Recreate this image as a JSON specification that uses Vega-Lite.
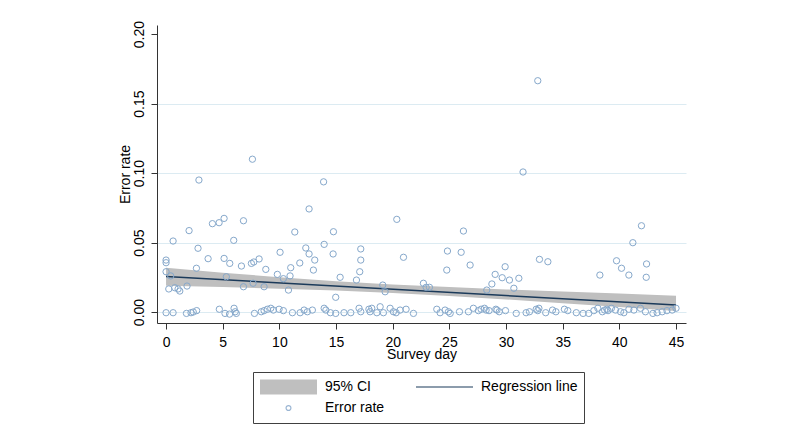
{
  "$schema": "https://vega.github.io/schema/vega-lite/v6.json",
  "autosize": {"type": "none"},
  "padding": {"left": 157, "top": 25, "right": 114, "bottom": 118},
  "width": 529,
  "height": 298,
  "background": "white",
  "config": {
    "font": "Liberation Sans",
    "view": {"stroke": null},
    "axis": {"labelFont": "Liberation Sans", "titleFont": "Liberation Sans", "labelFontSize": 14, "titleFontSize": 14, "titleFontWeight": "normal", "labelColor": "#000", "titleColor": "#000", "domainColor": "#333", "tickColor": "#333", "tickSize": 6, "domainWidth": 1, "tickWidth": 1},
    "legend": {
      "orient": "none", "legendX": 96, "legendY": 347, "columns": 2, "direction": "horizontal",
      "symbolSize": 3249, "clipHeight": 18, "rowPadding": 3, "columnPadding": 30, "labelOffset": 7,
      "padding": 6, "strokeColor": "#404040", "fillColor": "white", "symbolStrokeWidth": 1.2, "symbolOpacity": 1,
      "labelFont": "Liberation Sans", "labelFontSize": 14, "labelColor": "#000", "labelLimit": 300
    }
  },
  "datasets": {
    "pts": [
      {"day": 2.9, "rate": 0.095}, {"day": 7.62, "rate": 0.11}, {"day": 13.9, "rate": 0.0937}, {"day": 31.5, "rate": 0.1008}, {"day": 32.8, "rate": 0.1665},
      {"day": 0.62, "rate": 0.0511}, {"day": 2.03, "rate": 0.0586}, {"day": 4.09, "rate": 0.0636}, {"day": 4.68, "rate": 0.0643}, {"day": 5.12, "rate": 0.0674}, {"day": 6.83, "rate": 0.0657}, {"day": 5.97, "rate": 0.0516}, {"day": 2.82, "rate": 0.0459}, {"day": 3.71, "rate": 0.0384}, {"day": 0.0, "rate": 0.0374}, {"day": 0.0, "rate": 0.0355}, {"day": 0.0, "rate": 0.029}, {"day": 0.41, "rate": 0.026}, {"day": 5.12, "rate": 0.0386}, {"day": 5.62, "rate": 0.035}, {"day": 6.65, "rate": 0.0331}, {"day": 7.53, "rate": 0.035}, {"day": 7.74, "rate": 0.036}, {"day": 8.21, "rate": 0.0382}, {"day": 8.8, "rate": 0.0307}, {"day": 2.68, "rate": 0.0315}, {"day": 5.32, "rate": 0.0254}, {"day": 0.24, "rate": 0.0166}, {"day": 0.77, "rate": 0.0175}, {"day": 1.06, "rate": 0.0166}, {"day": 1.21, "rate": 0.0151}, {"day": 1.85, "rate": 0.0187}, {"day": 6.83, "rate": 0.0182}, {"day": 7.68, "rate": 0.0207}, {"day": 8.65, "rate": 0.0182},
      {"day": 0.0, "rate": -0.0005}, {"day": 0.62, "rate": -0.0005}, {"day": 1.8, "rate": -0.001}, {"day": 2.2, "rate": -0.0005}, {"day": 2.4, "rate": 0.0}, {"day": 2.7, "rate": 0.001}, {"day": 4.7, "rate": 0.002}, {"day": 5.2, "rate": -0.001}, {"day": 5.6, "rate": -0.0015}, {"day": 6.0, "rate": 0.0027}, {"day": 6.1, "rate": 0.0002}, {"day": 6.2, "rate": -0.001}, {"day": 7.8, "rate": -0.001}, {"day": 8.4, "rate": 0.0002}, {"day": 8.65, "rate": 0.001},
      {"day": 12.62, "rate": 0.0742}, {"day": 11.36, "rate": 0.0576}, {"day": 14.77, "rate": 0.0578}, {"day": 10.06, "rate": 0.043}, {"day": 12.33, "rate": 0.0461}, {"day": 12.62, "rate": 0.0418}, {"day": 13.12, "rate": 0.0374}, {"day": 13.95, "rate": 0.0487}, {"day": 14.74, "rate": 0.0418}, {"day": 11.8, "rate": 0.0353}, {"day": 11.0, "rate": 0.0319}, {"day": 13.0, "rate": 0.0302}, {"day": 9.82, "rate": 0.0271}, {"day": 10.35, "rate": 0.024}, {"day": 10.94, "rate": 0.026}, {"day": 10.8, "rate": 0.0158}, {"day": 15.36, "rate": 0.025}, {"day": 14.97, "rate": 0.0106}, {"day": 17.18, "rate": 0.0454}, {"day": 17.18, "rate": 0.0374}, {"day": 17.09, "rate": 0.029}, {"day": 16.8, "rate": 0.023},
      {"day": 8.94, "rate": 0.002}, {"day": 9.24, "rate": 0.0027}, {"day": 9.47, "rate": 0.0014}, {"day": 9.97, "rate": 0.002}, {"day": 10.35, "rate": 0.001}, {"day": 11.15, "rate": -0.0005}, {"day": 11.83, "rate": -0.0005}, {"day": 12.18, "rate": 0.0014}, {"day": 12.47, "rate": 0.0002}, {"day": 12.91, "rate": 0.0014}, {"day": 13.95, "rate": 0.0027}, {"day": 14.1, "rate": 0.0014}, {"day": 14.5, "rate": -0.0005}, {"day": 14.97, "rate": -0.001}, {"day": 15.7, "rate": -0.0005}, {"day": 16.3, "rate": -0.0005}, {"day": 17.03, "rate": 0.0027}, {"day": 17.18, "rate": 0.0002}, {"day": 17.9, "rate": 0.002}, {"day": 18.0, "rate": 0.0002},
      {"day": 20.36, "rate": 0.0667}, {"day": 26.24, "rate": 0.0583}, {"day": 20.95, "rate": 0.0394}, {"day": 24.83, "rate": 0.0439}, {"day": 26.04, "rate": 0.043}, {"day": 24.77, "rate": 0.0302}, {"day": 26.83, "rate": 0.0338}, {"day": 19.12, "rate": 0.0194}, {"day": 19.33, "rate": 0.0146}, {"day": 22.71, "rate": 0.0207}, {"day": 22.95, "rate": 0.0178}, {"day": 23.24, "rate": 0.0178},
      {"day": 18.15, "rate": 0.0027}, {"day": 18.6, "rate": -0.0005}, {"day": 18.89, "rate": 0.0038}, {"day": 19.18, "rate": -0.0005}, {"day": 19.77, "rate": 0.0027}, {"day": 20.06, "rate": 0.0002}, {"day": 20.3, "rate": -0.0005}, {"day": 20.65, "rate": 0.0014}, {"day": 21.18, "rate": 0.002}, {"day": 21.83, "rate": -0.001}, {"day": 23.89, "rate": 0.002}, {"day": 24.18, "rate": -0.0005}, {"day": 24.62, "rate": 0.0014}, {"day": 24.92, "rate": 0.0002}, {"day": 25.07, "rate": -0.001}, {"day": 25.89, "rate": 0.0002}, {"day": 26.68, "rate": 0.0002}, {"day": 27.12, "rate": 0.0027}, {"day": 27.56, "rate": 0.001},
      {"day": 32.95, "rate": 0.0379}, {"day": 33.69, "rate": 0.0362}, {"day": 29.92, "rate": 0.0326}, {"day": 29.04, "rate": 0.0271}, {"day": 29.66, "rate": 0.0247}, {"day": 30.3, "rate": 0.023}, {"day": 31.13, "rate": 0.0243}, {"day": 28.75, "rate": 0.0202}, {"day": 30.69, "rate": 0.0171}, {"day": 28.3, "rate": 0.0158},
      {"day": 27.8, "rate": 0.002}, {"day": 28.24, "rate": 0.0014}, {"day": 28.5, "rate": 0.001}, {"day": 29.1, "rate": 0.002}, {"day": 29.4, "rate": 0.0002}, {"day": 29.95, "rate": 0.001}, {"day": 30.9, "rate": -0.001}, {"day": 31.77, "rate": -0.0005}, {"day": 32.07, "rate": 0.0002}, {"day": 32.66, "rate": 0.002}, {"day": 32.9, "rate": 0.0027}, {"day": 33.5, "rate": -0.0005}, {"day": 34.1, "rate": 0.0014}, {"day": 34.4, "rate": 0.0002}, {"day": 35.15, "rate": 0.002}, {"day": 35.45, "rate": 0.001}, {"day": 36.2, "rate": -0.0005}, {"day": 36.8, "rate": -0.001}, {"day": 28.1, "rate": 0.0027}, {"day": 29.2, "rate": 0.0014}, {"day": 32.8, "rate": 0.001},
      {"day": 41.95, "rate": 0.0621}, {"day": 41.19, "rate": 0.0499}, {"day": 39.75, "rate": 0.0369}, {"day": 40.19, "rate": 0.0315}, {"day": 42.4, "rate": 0.0346}, {"day": 38.28, "rate": 0.0266}, {"day": 40.84, "rate": 0.0266}, {"day": 42.37, "rate": 0.025},
      {"day": 37.3, "rate": -0.001}, {"day": 37.75, "rate": 0.001}, {"day": 38.1, "rate": 0.0027}, {"day": 38.5, "rate": 0.0002}, {"day": 38.9, "rate": 0.002}, {"day": 39.3, "rate": 0.0027}, {"day": 39.66, "rate": 0.0014}, {"day": 40.1, "rate": 0.0002}, {"day": 40.4, "rate": -0.0005}, {"day": 40.84, "rate": 0.002}, {"day": 41.28, "rate": 0.0014}, {"day": 41.86, "rate": 0.0027}, {"day": 42.3, "rate": 0.0002}, {"day": 42.96, "rate": -0.001}, {"day": 43.33, "rate": -0.0005}, {"day": 43.78, "rate": 0.0002}, {"day": 44.2, "rate": 0.001}, {"day": 44.66, "rate": 0.0014}, {"day": 45.0, "rate": 0.0027}, {"day": 38.7, "rate": 0.0014}, {"day": 39.0, "rate": 0.001}
    ],
    "band": [
      {"day": 0, "lo": 0.019, "hi": 0.0318},
      {"day": 5, "lo": 0.018, "hi": 0.0283},
      {"day": 10, "lo": 0.0168, "hi": 0.0251},
      {"day": 15, "lo": 0.0155, "hi": 0.0222},
      {"day": 20, "lo": 0.0137, "hi": 0.0199},
      {"day": 25, "lo": 0.0116, "hi": 0.018},
      {"day": 30, "lo": 0.0091, "hi": 0.0163},
      {"day": 35, "lo": 0.0064, "hi": 0.0148},
      {"day": 40, "lo": 0.0036, "hi": 0.0133},
      {"day": 45, "lo": 0.0008, "hi": 0.0118}
    ],
    "fit": [
      {"day": 0, "fit": 0.0256, "k": "Error rate"},
      {"day": 45, "fit": 0.005, "k": "Error rate"}
    ]
  },
  "layer": [
    {
      "data": {"name": "band"},
      "mark": {"type": "area", "opacity": 1, "color": "#bfbfbf"},
      "encoding": {
        "x": {"field": "day", "type": "quantitative", "scale": {"domain": [-0.8, 45.88], "nice": false, "zero": false},
          "axis": {"title": "Survey day", "values": [0, 5, 10, 15, 20, 25, 30, 35, 40, 45], "grid": false, "labelPadding": 17, "labelBaseline": "alphabetic", "titleY": 35, "titleBaseline": "alphabetic"}},
        "y": {"field": "lo", "type": "quantitative", "scale": {"domain": [-0.0079, 0.2066], "nice": false, "zero": false},
          "axis": {"title": "Error rate", "values": [0, 0.05, 0.1, 0.15, 0.2], "format": ".2f", "labelAngle": 270, "labelAlign": "center", "labelBaseline": "alphabetic", "labelPadding": 8, "grid": true, "gridColor": {"condition": {"test": "datum.value > 0.19", "value": "transparent"}, "value": "#dcebf2"}, "gridWidth": 1, "titleAngle": 270, "titleX": -28, "titleBaseline": "alphabetic", "titleAlign": "center"}},
        "y2": {"field": "hi"}
      }
    },
    {
      "data": {"name": "fit"},
      "mark": {"type": "line", "strokeWidth": 1.5, "color": "#1b3a5a"},
      "encoding": {
        "x": {"field": "day", "type": "quantitative"},
        "y": {"field": "fit", "type": "quantitative"}
      }
    },
    {
      "data": {"name": "pts"},
      "mark": {"type": "point", "filled": false, "size": 40, "strokeWidth": 1, "opacity": 1, "color": "#86a8cb"},
      "encoding": {
        "x": {"field": "day", "type": "quantitative"},
        "y": {"field": "rate", "type": "quantitative"}
      }
    },
    {
      "data": {"name": "fit"},
      "transform": [{"filter": "false"}],
      "mark": {"type": "point", "filled": true},
      "encoding": {
        "x": {"field": "day", "type": "quantitative"},
        "y": {"field": "fit", "type": "quantitative"},
        "shape": {"field": "k", "type": "nominal", "title": null,
          "scale": {"domain": ["95% CI", "Regression line", "Error rate"], "range": ["M-1,-0.26L1,-0.26L1,0.26L-1,0.26Z", "stroke", "M-0.085,0A0.085,0.085 0 1,0 0.085,0A0.085,0.085 0 1,0 -0.085,0Z"]}},
        "fill": {"field": "k", "type": "nominal", "title": null,
          "scale": {"domain": ["95% CI", "Regression line", "Error rate"], "range": ["#bfbfbf", "transparent", "transparent"]}},
        "stroke": {"field": "k", "type": "nominal", "title": null,
          "scale": {"domain": ["95% CI", "Regression line", "Error rate"], "range": ["transparent", "#1b3a5a", "#9ab5d3"]}}
      }
    }
  ]
}
